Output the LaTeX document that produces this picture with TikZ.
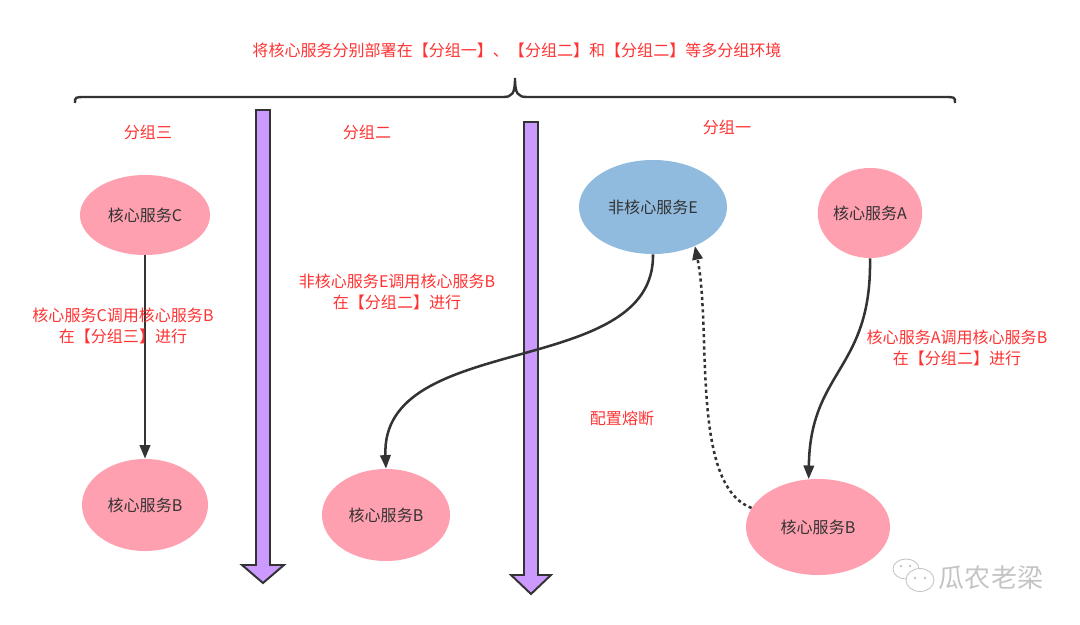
\documentclass[tikz,border=0pt]{standalone}
\usepackage{fontspec}
\setmainfont{Noto Sans CJK SC}
\usepackage{tikz}
\usetikzlibrary{shapes,arrows.meta}

\definecolor{corepink}{HTML}{FFA0B0}
\definecolor{noncoreblue}{HTML}{90BBDF}
\definecolor{notered}{HTML}{FF3333}
\definecolor{linegray}{HTML}{333333}
\definecolor{zonepurple}{HTML}{CC99FF}
\definecolor{markgray}{HTML}{C4C4C4}

\tikzset{
  core/.style={ellipse, fill=corepink, inner sep=0pt, text=linegray},
  noncore/.style={ellipse, fill=noncoreblue, inner sep=0pt, text=linegray},
  note/.style={text=notered, align=center},
  call/.style={draw=linegray, line width=1.8pt, -{Triangle[length=3.4mm,width=2.6mm]}},
  fuse/.style={call, dash pattern=on 2.2pt off 2.2pt},
  zone/.style={draw=linegray, fill=zonepurple, line width=1.4pt, line join=miter},
}

\begin{document}
\begin{tikzpicture}[x=0.025cm, y=-0.025cm, font=\fontsize{11.4}{15}\selectfont]
    \useasboundingbox (0,0) rectangle (1080,625);

    % title and brace
    \node[note] (title) at (517, 50) {将核心服务分别部署在【分组一】、【分组二】和【分组二】等多分组环境};
    \draw[linegray, line width=1.7pt] (75,103) .. controls (75,97) .. (86,97) -- (503,97)
      .. controls (512,97) and (515,94) .. (515,78) .. controls (515,94) and (518,97) .. (527,97)
      -- (944,97) .. controls (955,97) .. (955,103);

    % group separators
    \draw[zone] (256,110) -- (270,110) -- (270,565) -- (284,565) -- (263,583) -- (242,565) -- (256,565) -- cycle;
    \draw[zone] (524,122) -- (538,122) -- (538,575) -- (551,575) -- (531,594) -- (511,575) -- (524,575) -- cycle;

    \node[note] (group3) at (148, 132) {分组三};
    \node[note] (group2) at (367, 132) {分组二};
    \node[note] (group1) at (727, 127) {分组一};

    % services
    \node[core, minimum width=3.25cm, minimum height=2cm] (coreC) at (145, 215) {核心服务C};
    \node[core, minimum width=3.15cm, minimum height=2.3cm] (coreBl) at (145, 505) {核心服务B};
    \node[core, minimum width=3.2cm, minimum height=2.3cm] (coreBm) at (386, 515) {核心服务B};
    \node[noncore, minimum width=3.7cm, minimum height=2.35cm] (svcE) at (653, 207) {非核心服务E};
    \node[core, minimum width=2.6cm, minimum height=2.25cm] (coreA) at (870, 213) {核心服务A};
    \node[core, minimum width=3.6cm, minimum height=2.4cm] (coreBr) at (818, 527) {核心服务B};

    % calls
    \draw[call] (coreC) -- (coreBl);
    \draw[call] (svcE.south) .. controls (655,380) and (380,330) .. (coreBm.north);
    \draw[call] (coreA.south) .. controls (872,370) and (810,370) .. (coreBr.101);
    \draw[fuse] (coreBr.164) .. controls (690,485) and (712,330) .. (svcE.-43);

    \node[note] (noteC) at (123, 326) {核心服务C调用核心服务B\\在【分组三】进行};
    \node[note] (noteE) at (397, 292) {非核心服务E调用核心服务B\\在【分组二】进行};
    \node[note] (noteA) at (957, 348) {核心服务A调用核心服务B\\在【分组二】进行};
    \node[note] (fuseLabel) at (622, 418) {配置熔断};

    % watermark
    \draw[markgray, fill=white, line width=0.6pt] (906,569) ellipse (13 and 10);
    \draw[markgray, fill=white, line width=0.6pt] (920,580) ellipse (14 and 11.5);
    \fill[markgray] (901,566) circle (1.3) (910,566) circle (1.3) (915,578) circle (1.3) (925,578) circle (1.3);
    \node[text=markgray, font=\fontsize{18.5}{20}\selectfont] (mark) at (991, 578) {瓜农老梁};
\end{tikzpicture}
\end{document}
